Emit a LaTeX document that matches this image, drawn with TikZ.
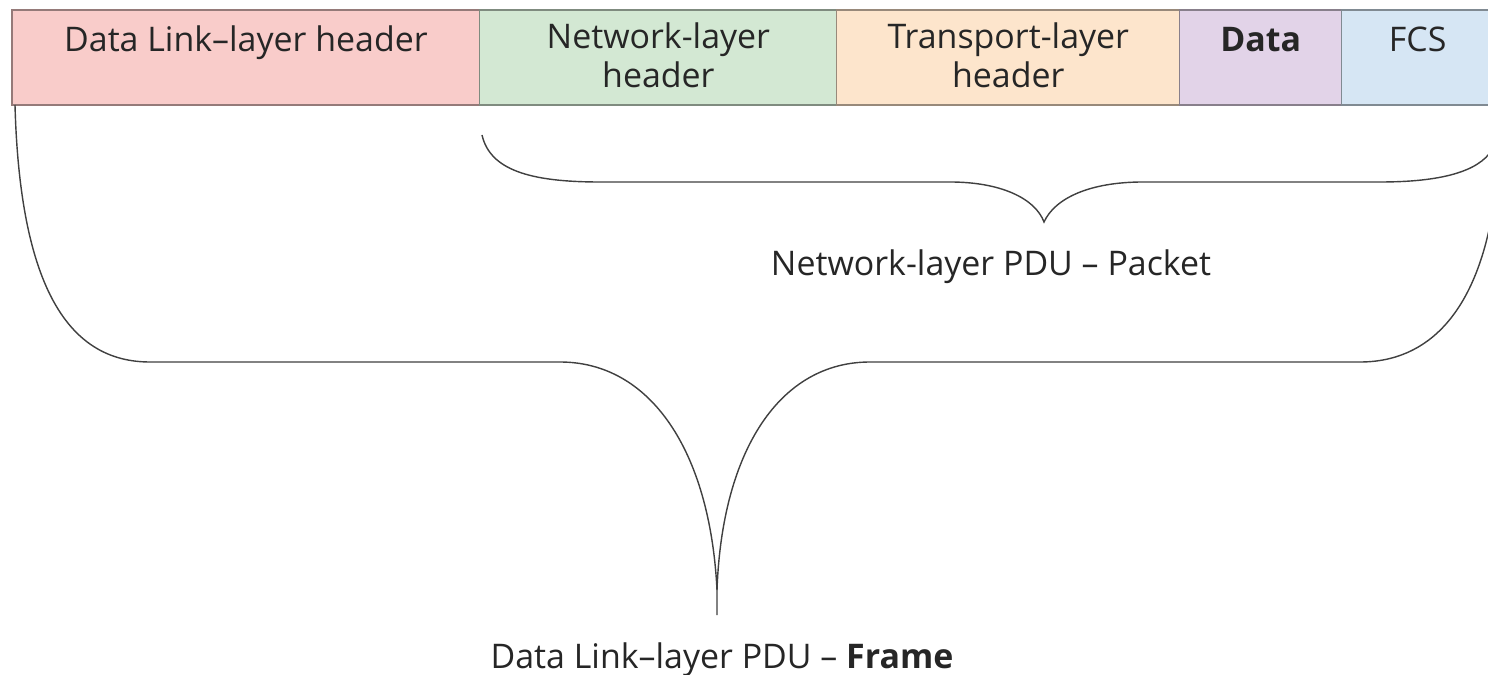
\documentclass[tikz,border=0pt]{standalone}
\usepackage{fontspec}
\setmainfont{Open Sans}
\usetikzlibrary{positioning}

\definecolor{dllred}{HTML}{F9CCCA}
\definecolor{netgreen}{HTML}{D3E8D3}
\definecolor{tporange}{HTML}{FDE5CC}
\definecolor{datapurple}{HTML}{E2D3E8}
\definecolor{fcsblue}{HTML}{D6E6F4}

\tikzset{
  cell/.style={rectangle, draw=#1!60!black, fill=#1, line width=0.6pt,
    minimum height=1.9cm, inner sep=0pt, outer sep=0pt},
  lbl/.style={anchor=base, align=center, text=black!85,
    font=\fontsize{19.3}{22.5}\selectfont},
  brace/.style={line width=0.8pt, draw=black!75}
}

\begin{document}
\begin{tikzpicture}[x=0.02cm, y=-0.02cm]
    \clip (0,0) rectangle (1488,675);
    \fill [white] (0,0) rectangle (1488,675);
    % frame fields
    \node [cell=dllred, minimum width=9.36cm, anchor=north west] (dll) at (12,10) {};
    \node [cell=netgreen, minimum width=7.14cm, right=0pt of dll] (net) {};
    \node [cell=tporange, minimum width=6.86cm, right=0pt of net] (tp) {};
    \node [cell=datapurple, minimum width=3.24cm, right=0pt of tp] (data) {};
    \node [cell=fcsblue, minimum width=3.04cm, right=0pt of data] (fcs) {};
    \node [lbl] (dll-t) at ([yshift=-0.84cm]dll.north) {Data Link--layer header};
    \node [lbl] (net-t) at ([yshift=-1.56cm]net.north) {Network-layer\\header};
    \node [lbl] (tp-t) at ([yshift=-1.56cm]tp.north) {Transport-layer\\header};
    \node [lbl] (data-t) at ([yshift=-0.84cm]data.north) {\textbf{Data}};
    \node [lbl] (fcs-t) at ([yshift=-0.84cm]fcs.north) {FCS};
    % packet brace
    \draw [brace] (482,135) .. controls (490,170) and (530,182) .. (600,182) -- (950,182)
        .. controls (1000,182) and (1035,198) .. (1044,222)
        .. controls (1055,198) and (1090,182) .. (1143,182) -- (1380,182)
        .. controls (1440,182) and (1478,172) .. (1492,150);
    \node [lbl] (packet) at (991,276) {Network-layer PDU -- Packet};
    % frame brace
    \draw [brace] (15,105) .. controls (20,290) and (70,362) .. (150,362) -- (560,362)
        .. controls (650,362) and (710,450) .. (717,590) -- (717,615);
    \draw [brace] (717,590) .. controls (722,450) and (780,362) .. (870,362) -- (1360,362)
        .. controls (1430,362) and (1475,310) .. (1492,215);
    \node [lbl] (frame) at (722,668) {Data Link--layer PDU -- \textbf{Frame}};
\end{tikzpicture}
\end{document}
